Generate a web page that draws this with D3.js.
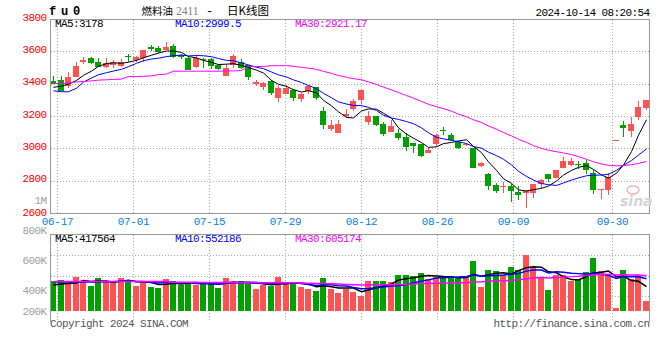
<!DOCTYPE html>
<html><head><meta charset="utf-8">
<script src="https://cdn.jsdelivr.net/npm/d3@7"></script>
<style>html,body{margin:0;padding:0;background:#fff;}svg{display:block;}</style>
</head><body>
<svg id="c" width="660" height="360"></svg>
<script>
// ---------- data ----------
const dates = ["06-14","06-17","06-18","06-19","06-20","06-21","06-24","06-25","06-26","06-27","06-28",
"07-01","07-02","07-03","07-04","07-05","07-08","07-09","07-10","07-11","07-12","07-15","07-16","07-17","07-18","07-19","07-22","07-23","07-24","07-25","07-26","07-29","07-30","07-31",
"08-01","08-02","08-05","08-06","08-07","08-08","08-09","08-12","08-13","08-14","08-15","08-16","08-19","08-20","08-21","08-22","08-23","08-26","08-27","08-28","08-29","08-30",
"09-02","09-03","09-04","09-05","09-06","09-09","09-10","09-11","09-12","09-13","09-18","09-19","09-20","09-23","09-24","09-25","09-26","09-27","09-30",
"10-08","10-09","10-10","10-11","10-14"];
const open = [3417,3421,3387,3444,3536,3561,3534,3504,3514,3512,
3573,3545,3561,3629,3620,3606,3635,3577,3561,3504,
3554,3555,3518,3449,3518,3535,3517,3400,3380,3419,
3310,3334,3362,3303,3357,3381,3228,3118,3095,3198,
3242,3296,3162,3198,3148,3101,3094,3069,3032,3027,
2970,3029,3112,3085,3038,3020,3001,2889,2839,2774,
2760,2766,2731,2721,2725,2778,2844,2817,2878,2897,
2901,2909,2848,2745,2741,3049,3147,3110,3192,3247];
const high = [3446,3446,3471,3532,3565,3567,3557,3557,3545,3551,
3582,3573,3606,3639,3633,3657,3645,3582,3569,3578,
3558,3561,3524,3523,3583,3551,3517,3424,3408,3421,
3393,3393,3364,3344,3394,3381,3253,3178,3173,3246,
3308,3362,3228,3198,3160,3173,3117,3095,3036,3027,
3004,3089,3135,3094,3044,3036,3001,2915,2848,2786,
2792,2782,2766,2741,2778,2813,2844,2864,2946,2942,
2919,2930,2864,2751,2848,3049,3167,3194,3295,3301];
const low = [3397,3352,3376,3444,3520,3524,3506,3495,3495,3506,
3534,3534,3534,3602,3592,3606,3559,3551,3485,3494,
3495,3489,3487,3449,3495,3493,3420,3387,3360,3332,
3287,3334,3294,3288,3334,3301,3120,3107,3095,3188,
3229,3274,3144,3137,3076,3101,3050,2984,2974,2944,
2970,3009,3081,3044,2995,3012,2878,2885,2745,2721,
2721,2669,2680,2632,2694,2757,2792,2817,2878,2893,
2872,2839,2716,2686,2710,3049,3073,3069,3176,3239];
const close = [3401,3356,3442,3510,3549,3530,3506,3526,3534,3534,
3563,3565,3606,3612,3598,3629,3563,3563,3485,3558,
3548,3508,3490,3500,3572,3496,3440,3413,3407,3345,
3376,3376,3310,3335,3385,3309,3145,3142,3148,3214,
3290,3362,3203,3142,3088,3138,3063,3009,3015,2953,
2989,3081,3108,3051,3001,3024,2878,2911,2768,2737,
2764,2737,2710,2733,2778,2805,2809,2864,2919,2919,
2899,2868,2741,2749,2823,3049,3124,3153,3258,3301];
// volume in thousands of lots
const volume = [512,529,489,586,489,426,563,489,489,563,
529,432,489,415,398,546,512,443,489,443,
489,466,398,563,512,512,466,381,443,432,
580,483,455,409,381,341,563,378,307,375,
330,262,512,512,512,495,614,614,597,648,
546,586,569,569,557,586,853,409,699,682,
614,750,699,955,750,580,358,614,614,512,
546,659,904,682,614,57,699,546,614,171];
// moving-average values before the window is full
const ma5Head = [3377,3385,3397,3420];
const ma10Head = [3356,3350,3350,3372,3410,3435,3455,3468,3478];
const ma30Head = [3401,3401,3403,3411,3413,3417,3422,3424,3426,3428,3444,3444,3446,3448,3456,3459,3477,3477,3477,3477,3477,3477,3477,3479,3479,3481,3506,3506,3506];
const volMa5Head = [445,460,468,478];
const volMa10Head = [495,495,495,495,495,495,495,500,500];
const volMa30Head = [505,505,505,505,505,505,505,505,505,505,505,505,505,505,505,505,490,490,490,490,488,488,488,486,486,486,485,485,484];

const priceTicks = [3800,3600,3400,3200,3000,2800,2600];
const volTickValues = [1000,800,600,400,200];
const volTickLabels = ["1M","800K","600K","400K","200K"];
const xTickLabels = ["06-17","07-01","07-15","07-29","08-12","08-26","09-09","09-30"];
const priceLegend = ["MA5:3178","MA10:2999.5","MA30:2921.17"];
const volLegend = ["MA5:417564","MA10:552186","MA30:605174"];

// ---------- drawing ----------
const svg = d3.select("#c");
const mono = "'Liberation Mono','DejaVu Sans Mono',monospace";
const RED = "#ff5252", GREEN = "#00a000";
const maColors = ["#000000","#0000ff","#ff00ff"];
const N = dates.length;

const x = d3.scaleBand().domain(d3.range(N)).range([50, 649]).paddingInner(0.2).paddingOuter(0);
const bx = i => Math.round(x(i));
const cx = i => bx(i) + 3.5;
const xGrid = d3.scaleLinear().domain([0, N - 1]).range([50, 650]);
const y = d3.scaleLinear().domain([2600, 3800]).range([213, 19]);
const yv = d3.scaleLinear().domain([0, 1000]).range([311, 252.4]);
const yvLab = d3.scaleLinear().domain([0, 1000]).range([354, 204]);
const volTop = 234, volBot = 317;

function movingAvg(vals, n, head) {
  return vals.map((v, i) => i < n - 1 ? head[i] : d3.mean(vals.slice(i - n + 1, i + 1)));
}

const grid = svg.append("g").attr("stroke", "#a8a8a8").attr("stroke-dasharray", "1,2")
  .attr("shape-rendering", "crispEdges");
// vertical grid lines
xTickLabels.forEach(lbl => {
  const gx = Math.floor(xGrid(dates.indexOf(lbl))) + 0.5;
  grid.append("line").attr("x1", gx).attr("x2", gx).attr("y1", 20).attr("y2", 213);
  grid.append("line").attr("x1", gx).attr("x2", gx).attr("y1", volTop + 1).attr("y2", 322);
});
// horizontal price grid
priceTicks.slice(1, -1).forEach(p => {
  const gy = Math.round(y(p)) + 0.5;
  grid.append("line").attr("x1", 51).attr("x2", 649).attr("y1", gy).attr("y2", gy);
});
// horizontal volume grid
[0.25, 0.5, 0.75].forEach(f => {
  const gy = Math.round(volTop + (volBot - volTop) * f) + 0.5;
  grid.append("line").attr("x1", 51).attr("x2", 649).attr("y1", gy).attr("y2", gy);
});

// candles
const cg = svg.append("g").attr("shape-rendering", "crispEdges");
d3.range(N).forEach(i => {
  const up = close[i] >= open[i];
  const col = up ? RED : GREEN;
  const yT = Math.round(y(Math.max(open[i], close[i])));
  const yB = Math.round(y(Math.min(open[i], close[i])));
  const yH = Math.round(y(high[i])), yL = Math.round(y(low[i]));
  cg.append("rect").attr("x", bx(i) + 3).attr("width", 1).attr("y", yH).attr("height", Math.max(1, yL - yH)).attr("fill", col);
  cg.append("rect").attr("x", bx(i)).attr("width", 6).attr("y", yT).attr("height", Math.max(1, yB - yT)).attr("fill", col);
});

// volume bars
const vg = svg.append("g").attr("shape-rendering", "crispEdges");
d3.range(N).forEach(i => {
  const col = close[i] >= open[i] ? RED : GREEN;
  const yt = Math.round(yv(volume[i]));
  vg.append("rect").attr("x", bx(i)).attr("width", 6).attr("y", yt).attr("height", 311 - yt).attr("fill", col);
});

// MA lines (price)
const pLine = d3.line().x((d, i) => cx(i)).y(d => y(d));
[movingAvg(close, 5, ma5Head), movingAvg(close, 10, ma10Head), movingAvg(close, 30, ma30Head)]
  .forEach((arr, k) => svg.append("path").attr("d", pLine(arr)).attr("fill", "none")
    .attr("stroke", maColors[k]).attr("stroke-width", 1));
// MA lines (volume)
const vLine = d3.line().x((d, i) => cx(i)).y(d => yv(d));
[movingAvg(volume, 5, volMa5Head), movingAvg(volume, 10, volMa10Head), movingAvg(volume, 30, volMa30Head)]
  .forEach((arr, k) => svg.append("path").attr("d", vLine(arr)).attr("fill", "none")
    .attr("stroke", maColors[k]).attr("stroke-width", 1.5));

// frames
const fr = svg.append("g").attr("stroke", "#999").attr("shape-rendering", "crispEdges").attr("fill", "none");
fr.append("line").attr("x1", 50.5).attr("x2", 50.5).attr("y1", 19).attr("y2", 214);
fr.append("line").attr("x1", 50).attr("x2", 650).attr("y1", 19.5).attr("y2", 19.5);
fr.append("line").attr("x1", 649.5).attr("x2", 649.5).attr("y1", 19).attr("y2", 214);
fr.append("line").attr("x1", 50).attr("x2", 650).attr("y1", 213.5).attr("y2", 213.5);
fr.append("line").attr("x1", 50.5).attr("x2", 50.5).attr("y1", volTop).attr("y2", 322);
fr.append("line").attr("x1", 50).attr("x2", 650).attr("y1", volTop + 0.5).attr("y2", volTop + 0.5);
fr.append("line").attr("x1", 649.5).attr("x2", 649.5).attr("y1", volTop).attr("y2", 322);

// watermark
svg.append("ellipse").attr("cx", 633).attr("cy", 190).attr("rx", 6).attr("ry", 4)
  .attr("fill", "none").attr("stroke", "#f2b4b4").attr("stroke-width", 1.5);
svg.append("text").attr("x", 620).attr("y", 206).text("sina")
  .attr("font-family", "'DejaVu Sans',sans-serif").attr("font-style", "italic").attr("font-weight", "bold")
  .attr("font-size", 14).attr("fill", "#d4d4d4");

// texts
function txt(s, xx, yy, opts) {
  const t = svg.append("text").attr("x", xx).attr("y", yy).text(s)
    .attr("font-family", mono).attr("font-size", 11).attr("letter-spacing", "-0.6px");
  Object.entries(opts || {}).forEach(([k, v]) => t.attr(k, v));
  return t;
}
// price axis labels
priceTicks.forEach((p, k) => {
  txt(String(p), 46.5, y(p) + (k === priceTicks.length - 1 ? 3 : 1.5), {"text-anchor": "end", fill: "#ff0000"});
});
// volume axis labels
volTickValues.forEach((v, k) => {
  txt(volTickLabels[k], 46.5, Math.min(yvLab(v), 315), {"text-anchor": "end", fill: "#a0a0a0"});
});
// date labels
xTickLabels.forEach(lbl => {
  txt(lbl, Math.floor(xGrid(dates.indexOf(lbl))) + 0.5, 225, {"text-anchor": "middle", fill: "#0a80e8", "letter-spacing": "-0.3px"});
});
// legends
const legX = [55, 175, 295];
priceLegend.forEach((s, k) => txt(s, legX[k], 27, {fill: maColors[k]}));
volLegend.forEach((s, k) => txt(s, legX[k], 242, {fill: maColors[k]}));
// header
txt("f u 0", 49, 15, {"font-weight": "bold", "font-size": 12, "letter-spacing": "-1.2px", fill: "#000"});
svg.append("text").attr("x", 141.5).attr("y", 15).text("燃料油")
  .attr("font-family", "'Noto Sans CJK SC',sans-serif").attr("font-size", 10.5).attr("fill", "#000");
svg.append("text").attr("x", 176).attr("y", 15).text("2411")
  .attr("font-family", "'Liberation Serif',serif").attr("font-size", 11.5).attr("fill", "#808080");
svg.append("text").attr("x", 206).attr("y", 15).text("-")
  .attr("font-family", mono).attr("font-size", 12).attr("fill", "#000");
svg.append("text").attr("x", 227).attr("y", 15).text("日K线图")
  .attr("font-family", "'Noto Sans CJK SC',sans-serif").attr("font-size", 11.5).attr("fill", "#000");
txt("2024-10-14 08:20:54", 649.5, 16, {"text-anchor": "end", fill: "#000"});
// footer
txt("Copyright 2024 SINA.COM", 50, 327, {fill: "#555"});
txt("http://finance.sina.com.cn", 649.5, 327, {"text-anchor": "end", fill: "#555"});
</script>
</body></html>
